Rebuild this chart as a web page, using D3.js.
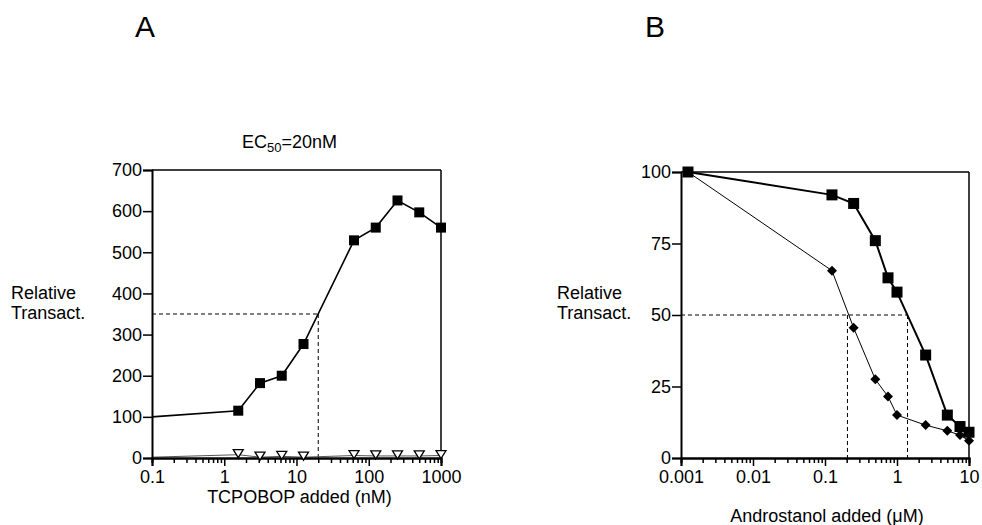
<!DOCTYPE html>
<html>
<head>
<meta charset="utf-8">
<script src="https://cdn.jsdelivr.net/npm/d3@7"></script>
<style>
  body { margin: 0; background: #fff; }
  text { font-family: "Liberation Sans", Arial, sans-serif; fill: #000; }
</style>
</head>
<body>
<div id="chart"></div>
<script>
// panel A: TCPOBOP dose response
var doseA = [0.1, 1.5625, 3.125, 6.25, 12.5, 62.5, 125, 250, 500, 1000];
var filledA = [100, 115, 182, 200, 277, 529, 560, 626, 597, 560];
var openA = [2, 8, 2, 4, 2, 6, 5, 5, 5, 6];
var ticksA = [0.1, 1, 10, 100, 1000];
var tickLabelsA = ["0.1", "1", "10", "100", "1000"];
var yTicksA = [0, 100, 200, 300, 400, 500, 600, 700];
var ec50A = 20, halfA = 350;

// panel B: androstanol inhibition
var doseB = [0.00125, 0.125, 0.25, 0.5, 0.75, 1, 2.5, 5, 7.5, 10];
var squareB = [100, 92, 89, 76, 63, 58, 36, 15, 11, 9];
var diamondB = [100, 65.5, 45.5, 27.5, 21.5, 15, 11.5, 9.5, 8, 6];
var ticksB = [0.001, 0.01, 0.1, 1, 10];
var tickLabelsB = ["0.001", "0.01", "0.1", "1", "10"];
var yTicksB = [0, 25, 50, 75, 100];
var ic50B = [0.205, 1.4], halfB = 50;

var width = 982, height = 525;
var fs = 18;

var svg = d3.select("#chart").append("svg")
    .attr("width", width)
    .attr("height", height);

// minor tick values for a log axis
function minorTicks(lo, hi) {
  var out = [];
  for (var e = Math.log10(lo); e < Math.log10(hi); e++) {
    for (var k = 2; k <= 9; k++) out.push(Math.pow(10, e) * k);
  }
  return out;
}

function drawFrame(g, x, y, xt, xl, yt, box) {
  // top and right border
  g.append("line").attr("x1", box.l).attr("x2", box.r).attr("y1", box.t).attr("y2", box.t)
    .attr("stroke", "#000").attr("stroke-width", 1.5);
  g.append("line").attr("x1", box.r).attr("x2", box.r).attr("y1", box.t).attr("y2", box.b)
    .attr("stroke", "#000").attr("stroke-width", 1.5);

  var xAxis = g.append("g").attr("transform", "translate(0," + box.b + ")");
  xAxis.call(d3.axisBottom(x).tickValues(minorTicks(xt[0], xt[xt.length - 1]))
      .tickSize(5).tickFormat(""));
  xAxis.append("g").call(d3.axisBottom(x).tickValues(xt).tickSize(8).tickPadding(4)
      .tickFormat(function(d, i) { return xl[i]; }));
  xAxis.selectAll(".domain").attr("stroke-width", 2);
  xAxis.selectAll("line").attr("stroke-width", 1.5);
  xAxis.selectAll("text").attr("font-size", fs).attr("font-family", "Liberation Sans, Arial, sans-serif");

  var yAxis = g.append("g").attr("transform", "translate(" + box.l + ",0)");
  yAxis.call(d3.axisLeft(y).tickValues(yt).tickSize(9).tickPadding(1));
  yAxis.selectAll(".domain").attr("stroke-width", 2);
  yAxis.selectAll("line").attr("stroke-width", 1.5);
  yAxis.selectAll("text").attr("font-size", fs).attr("font-family", "Liberation Sans, Arial, sans-serif");
}

function dashed(g, x1, y1, x2, y2) {
  g.append("line").attr("x1", x1).attr("y1", y1).attr("x2", x2).attr("y2", y2)
    .attr("stroke", "#000").attr("stroke-width", 1).attr("stroke-dasharray", "4,3");
}

// ---------- panel A ----------
var boxA = { l: 152, r: 441, t: 170, b: 458 };
var xA = d3.scaleLog().domain([0.1, 1000]).range([boxA.l, boxA.r]);
var yA = d3.scaleLinear().domain([0, 700]).range([boxA.b, boxA.t]);
var gA = svg.append("g");

dashed(gA, boxA.l, yA(halfA), xA(ec50A), yA(halfA));
dashed(gA, xA(ec50A), yA(halfA), xA(ec50A), boxA.b);

var lineA = d3.line().x(function(d) { return xA(d[0]); }).y(function(d) { return yA(d[1]); });

gA.append("path").datum(d3.zip(doseA, openA)).attr("d", lineA)
  .attr("fill", "none").attr("stroke", "#555").attr("stroke-width", 1);
gA.append("path").datum(d3.zip(doseA, filledA)).attr("d", lineA)
  .attr("fill", "none").attr("stroke", "#000").attr("stroke-width", 1.6);

drawFrame(gA, xA, yA, ticksA, tickLabelsA, yTicksA, boxA);

// inverted open triangles
gA.selectAll(".tri").data(d3.zip(doseA, openA).slice(1)).enter().append("path")
  .attr("transform", function(d) { return "translate(" + xA(d[0]) + "," + (yA(d[1]) - 1) + ")"; })
  .attr("d", "M-5,-4L5,-4L0,4Z")
  .attr("fill", "#fff").attr("stroke", "#000").attr("stroke-width", 1.3);

gA.selectAll(".sq").data(d3.zip(doseA, filledA).slice(1)).enter().append("rect")
  .attr("x", function(d) { return xA(d[0]) - 5; })
  .attr("y", function(d) { return yA(d[1]) - 5; })
  .attr("width", 10).attr("height", 10).attr("fill", "#000");

// ---------- panel B ----------
var boxB = { l: 681, r: 969, t: 172, b: 458 };
var xB = d3.scaleLog().domain([0.001, 10]).range([boxB.l, boxB.r]);
var yB = d3.scaleLinear().domain([0, 100]).range([boxB.b, boxB.t]);
var gB = svg.append("g");

dashed(gB, boxB.l, yB(halfB), xB(ic50B[1]), yB(halfB));
dashed(gB, xB(ic50B[0]), yB(halfB), xB(ic50B[0]), boxB.b);
dashed(gB, xB(ic50B[1]), yB(halfB), xB(ic50B[1]), boxB.b);

var lineB = d3.line().x(function(d) { return xB(d[0]); }).y(function(d) { return yB(d[1]); });

gB.append("path").datum(d3.zip(doseB, diamondB)).attr("d", lineB)
  .attr("fill", "none").attr("stroke", "#000").attr("stroke-width", 1);
gB.append("path").datum(d3.zip(doseB, squareB)).attr("d", lineB)
  .attr("fill", "none").attr("stroke", "#000").attr("stroke-width", 2);

drawFrame(gB, xB, yB, ticksB, tickLabelsB, yTicksB, boxB);

gB.selectAll(".dia").data(d3.zip(doseB, diamondB)).enter().append("path")
  .attr("transform", function(d) { return "translate(" + xB(d[0]) + "," + yB(d[1]) + ")"; })
  .attr("d", "M0,-5L5,0L0,5L-5,0Z").attr("fill", "#000");

gB.selectAll(".sq").data(d3.zip(doseB, squareB)).enter().append("rect")
  .attr("x", function(d) { return xB(d[0]) - 5.5; })
  .attr("y", function(d) { return yB(d[1]) - 5.5; })
  .attr("width", 11).attr("height", 11).attr("fill", "#000");

// ---------- texts ----------
svg.append("text").attr("x", 135).attr("y", 37).attr("font-size", 30).text("A");
svg.append("text").attr("x", 645).attr("y", 37).attr("font-size", 30).text("B");

var ec = svg.append("text").attr("x", 242).attr("y", 148).attr("font-size", fs);
ec.append("tspan").text("EC");
ec.append("tspan").attr("font-size", 13).attr("dy", 4).text("50");
ec.append("tspan").attr("dy", -4).text("=20nM");

[[11, "A"], [557, "B"]].forEach(function(p) {
  var t = svg.append("text").attr("x", p[0]).attr("y", 299).attr("font-size", fs);
  t.append("tspan").attr("x", p[0]).text("Relative");
  t.append("tspan").attr("x", p[0]).attr("dy", 20).text("Transact.");
});

svg.append("text").attr("x", xA(10) + 3).attr("y", 503).attr("font-size", fs)
  .attr("text-anchor", "middle").text("TCPOBOP added (nM)");
svg.append("text").attr("x", xB(0.1) + 2).attr("y", 522).attr("font-size", fs)
  .attr("text-anchor", "middle").text("Androstanol added (μM)");
</script>
</body>
</html>
